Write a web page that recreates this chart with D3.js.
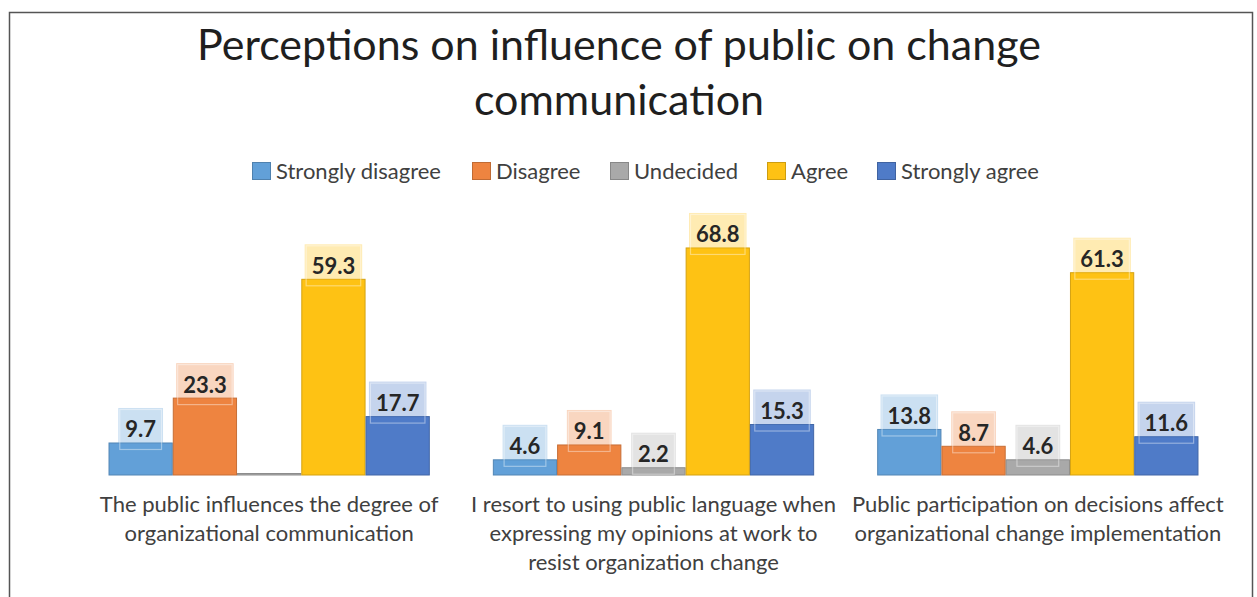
<!DOCTYPE html>
<html>
<head>
<meta charset="utf-8">
<script src="https://cdn.jsdelivr.net/npm/d3@7"></script>
<style>
  html, body { margin: 0; padding: 0; background: #fff; }
  svg { display: block; }
</style>
</head>
<body>
<svg id="chart" width="1257" height="597"></svg>
<script>
// Survey responses (%) per statement
const categories = [
  ["The public influences the degree of", "organizational communication"],
  ["I resort to using public language when", "expressing my opinions at work to", "resist organization change"],
  ["Public participation on decisions affect", "organizational change implementation"]
];
const seriesNames = ["Strongly disagree", "Disagree", "Undecided", "Agree", "Strongly agree"];
const seriesColors = ["#62A0D8", "#EE8440", "#A9A9A9", "#FEC214", "#4F7BC8"];
const stronglyDisagree = [9.7, 4.6, 13.8];
const disagree = [23.3, 9.1, 8.7];
const undecided = [0, 2.2, 4.6];
const agree = [59.3, 68.8, 61.3];
const stronglyAgree = [17.7, 15.3, 11.6];
const seriesValues = [stronglyDisagree, disagree, undecided, agree, stronglyAgree];

const svg = d3.select("#chart");
const font = "Lato, 'Open Sans', sans-serif";

// outer frame
svg.append("rect")
  .attr("x", 9.5).attr("y", 12.5)
  .attr("width", 1243).attr("height", 620)
  .attr("fill", "#fff").attr("stroke", "#555").attr("stroke-width", 1.5);

// title
const title = svg.append("text")
  .attr("text-anchor", "middle")
  .attr("font-family", font)
  .attr("font-size", 43)
  .attr("fill", "#1f1f1f");
title.append("tspan").attr("x", 619).attr("y", 60).text("Perceptions on influence of public on change");
title.append("tspan").attr("x", 619).attr("y", 115).text("communication");

// legend
const legendX = [252, 472, 610, 767, 877];
const legend = svg.append("g").attr("font-family", font).attr("font-size", 22).attr("fill", "#404040");
seriesNames.forEach((name, i) => {
  const g = legend.append("g").attr("transform", `translate(${legendX[i]},171)`);
  g.append("rect").attr("x", 0.5).attr("y", -8.5).attr("width", 18).attr("height", 17)
    .attr("fill", seriesColors[i])
    .attr("stroke", d3.color(seriesColors[i]).darker(0.6)).attr("stroke-width", 1);
  g.append("text").attr("x", 24).attr("y", 7.5).text(name);
});

// scales
const x0 = d3.scaleBand()
  .domain(d3.range(categories.length))
  .range([77, 1230])
  .paddingInner(0.164)
  .paddingOuter(0.082);
const x1 = d3.scaleBand()
  .domain(d3.range(seriesNames.length))
  .range([0, x0.bandwidth()]);
const y = d3.scaleLinear().domain([0, 70]).range([475, 244]);

const plot = svg.append("g");

categories.forEach((cat, ci) => {
  const g = plot.append("g").attr("transform", `translate(${x0(ci)},0)`);
  seriesNames.forEach((s, si) => {
    const v = seriesValues[si][ci];
    const col = seriesColors[si];
    const bx = x1(si), bw = x1.bandwidth();
    const top = Math.min(y(v), y(0) - 1.5);
    g.append("rect")
      .attr("x", bx + 0.5).attr("y", top)
      .attr("width", bw - 1).attr("height", y(0) - top)
      .attr("fill", col)
      .attr("stroke", d3.color(col).darker(0.5)).attr("stroke-width", 1);
  });
});

// value labels
categories.forEach((cat, ci) => {
  const g = plot.append("g").attr("transform", `translate(${x0(ci)},0)`);
  seriesNames.forEach((s, si) => {
    const v = seriesValues[si][ci];
    if (!v) return;
    const col = seriesColors[si];
    const cx = x1(si) + x1.bandwidth() / 2;
    const t = g.append("text")
      .attr("x", cx).attr("y", y(v) - 14)
      .attr("text-anchor", "middle")
      .attr("dominant-baseline", "central")
      .attr("font-family", font).attr("font-weight", "bold").attr("font-size", 22)
      .attr("fill", "#262626")
      .text(v.toFixed(1));
    const tw = t.node().getComputedTextLength();
    const bw = tw + 14;
    g.insert("rect", "text")
      .attr("x", cx - bw / 2).attr("y", y(v) - 35)
      .attr("width", bw).attr("height", 43)
      .attr("fill", col).attr("fill-opacity", 0.33);
    g.insert("rect", "text")
      .attr("x", cx - bw / 2 + 1.5).attr("y", y(v) - 33.5)
      .attr("width", bw - 3).attr("height", 40)
      .attr("fill", "none").attr("stroke", "#fff").attr("stroke-opacity", 0.4).attr("stroke-width", 1.2);
  });
});

// category labels
categories.forEach((lines, ci) => {
  const t = svg.append("text")
    .attr("text-anchor", "middle")
    .attr("font-family", font).attr("font-size", 22)
    .attr("fill", "#404040");
  lines.forEach((line, li) => {
    t.append("tspan")
      .attr("x", x0(ci) + x0.bandwidth() / 2)
      .attr("y", 512 + li * 29)
      .text(line);
  });
});
</script>
</body>
</html>
